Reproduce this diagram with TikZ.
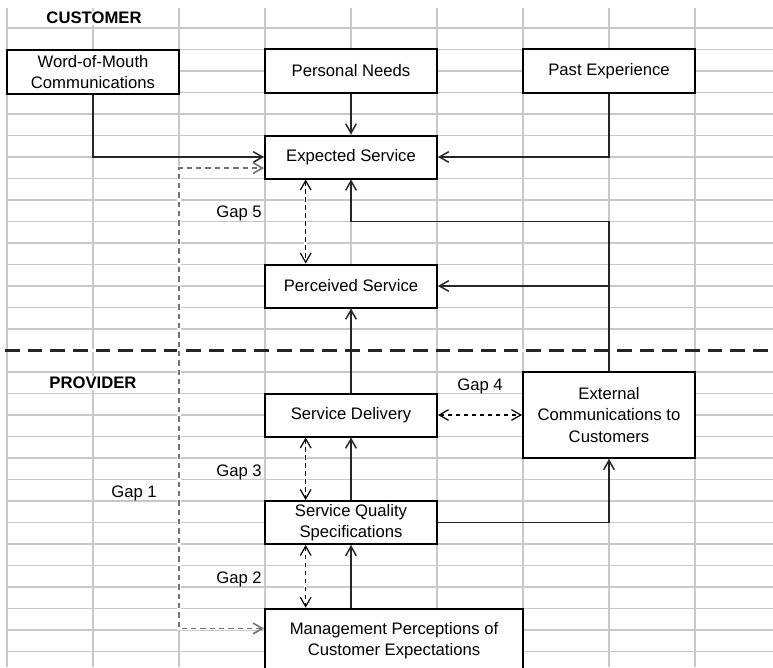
\documentclass[tikz,border=0pt]{standalone}
\usepackage{fontspec}
\setmainfont{Liberation Sans}
\usetikzlibrary{arrows.meta, positioning}
\definecolor{grid_gray}{RGB}{200,200,200}
\definecolor{gap_gray}{RGB}{115,115,115}

\begin{document}
\begin{tikzpicture}[x=0.75pt, y=-0.75pt, >={Straight Barb[length=7pt, width=8pt]},
    every node/.style={font=\fontsize{12.5}{16}\selectfont, align=center},
    box/.style={draw, line width=1.5pt, fill=white, minimum width=129pt, minimum height=32.25pt, inner sep=1pt},
    heading/.style={fill=white, inner sep=1pt, font=\fontsize{12.5}{16}\selectfont\bfseries},
    gaplabel/.style={inner sep=0pt},
    link/.style={->, line width=1.1pt, black!85},
    gaplink/.style={<->, line width=0.9pt, dash pattern=on 3.5pt off 2.5pt, preaction={draw=white, line width=2.5pt, solid, -}},
    gapone/.style={<->, gap_gray, line width=1.2pt, dash pattern=on 4pt off 3pt, preaction={draw=white, line width=2.5pt, solid, -}},
    divider/.style={line width=2.2pt, black!85, dash pattern=on 11pt off 6pt, preaction={draw=white, line width=2.5pt, solid}}]
      \useasboundingbox (0,0) rectangle (773,667);
      \clip (0,0) rectangle (773,667);
      \foreach \i in {0,...,29} \draw[grid_gray, line width=1.3pt] (7,28+21.5*\i) -- (773,28+21.5*\i);
      \foreach \i in {0,...,8} \draw[grid_gray, line width=1.3pt] (7+86*\i,8) -- (7+86*\i,667);
      \draw[divider] (5,350.5) -- (773,350.5);
      \node[heading] (cust) at (94,18) {CUSTOMER};
      \node[heading] (prov) at (93,383) {PROVIDER};
      \node[box] (wom) at (93,72) {Word-of-Mouth\\Communications};
      \node[box] (needs) at (351,71) {Personal Needs};
      \node[box] (past) at (609,71) {Past Experience};
      \node[box] (exp) at (351,157) {Expected Service};
      \node[box] (perc) at (351,286) {Perceived Service};
      \node[box] (deliv) at (351,415) {Service Delivery};
      \node[box, minimum height=64.5pt] (ext) at (609,415) {External\\Communications to\\Customers};
      \node[box] (spec) at (351,522.5) {Service Quality\\Specifications};
      \node[box, minimum width=193.5pt, minimum height=48.4pt] (mgmt) at (394,641) {Management Perceptions of\\Customer Expectations};
      \coordinate (bend) at (609,221.5);
      \coordinate (gapx) at (179,400);
      \draw[link] (wom.south) |- (exp.west);
      \draw[link] (needs) -- (exp);
      \draw[link] (past.south) |- (exp.east);
      \draw[link] (ext.north) -- (bend) -| (exp.south);
      \draw[link] (ext.north |- perc.east) -- (perc.east);
      \draw[link] (deliv) -- (perc);
      \draw[link] (spec) -- (deliv);
      \draw[link] (spec.east) -| (ext.south);
      \draw[link] (spec.south |- mgmt.north) -- (spec.south);
      \coordinate (g5) at ([xshift=-34pt]exp.south);
      \coordinate (g3) at ([xshift=-34pt]deliv.south);
      \coordinate (g2) at ([xshift=-34pt]spec.south);
      \draw[gaplink] (g5) -- (g5 |- perc.north);
      \draw[gaplink] (g3) -- (g3 |- spec.north);
      \draw[gaplink] (g2) -- (g2 |- mgmt.north);
      \draw[gaplink] (deliv.east) -- (deliv.east -| ext.west);
      \draw[gapone] ([yshift=9.4pt]mgmt.west) -| (gapx) |- ([yshift=-8.3pt]exp.west);
      \node[gaplabel, anchor=base east] (gap5) at (262,217.5) {Gap 5};
      \node[gaplabel, anchor=base east] (gap3) at (262,476) {Gap 3};
      \node[gaplabel, anchor=base east] (gap2) at (262,583.5) {Gap 2};
      \node[gaplabel, anchor=base east] (gap1) at (157,497) {Gap 1};
      \node[gaplabel, anchor=base] (gap4) at (480,390) {Gap 4};
    \end{tikzpicture}
\end{document}
